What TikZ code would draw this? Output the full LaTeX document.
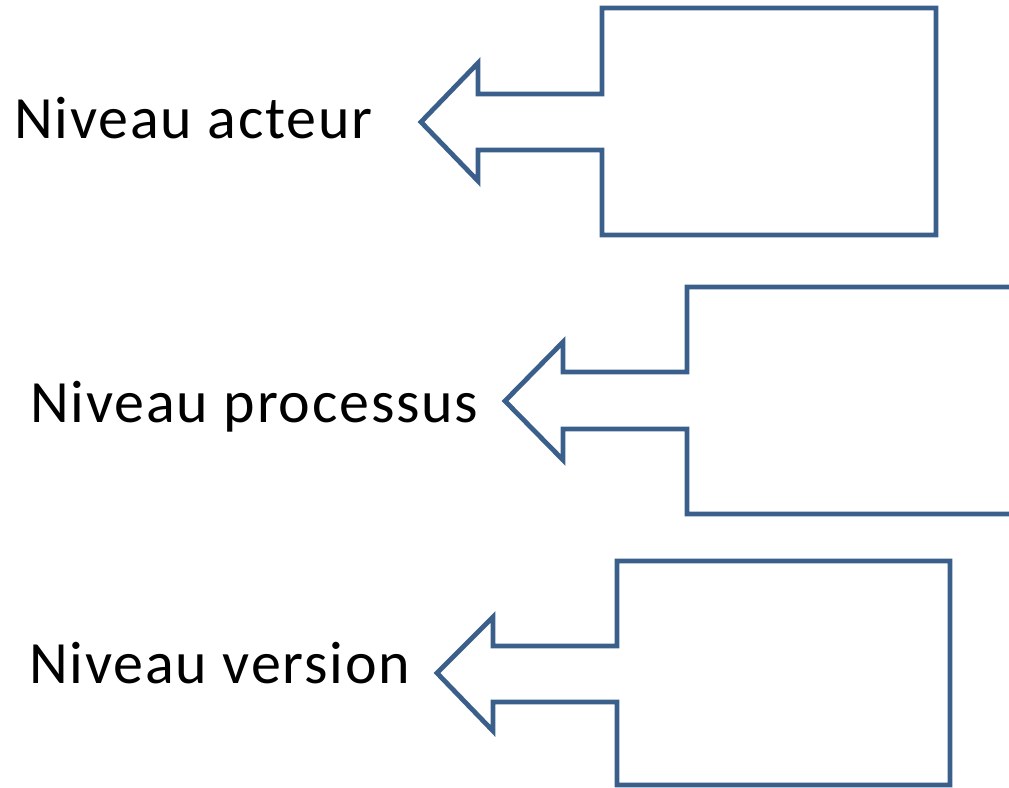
\documentclass[tikz,border=0pt]{standalone}
\usepackage{fontspec}
\setmainfont{Carlito}[LetterSpace=3]
\definecolor{outline}{HTML}{3A5F8B}
\tikzset{
  callout/.style={draw=outline, line width=4.8pt, miter limit=10, line join=miter},
  label/.style={anchor=base west, inner sep=0pt, font=\fontsize{60}{62}\selectfont}
}
\begin{document}
\begin{tikzpicture}[x=1pt,y=-1pt]
\useasboundingbox (0,0) rectangle (1009,787);
% level 1
\draw[callout] (602,8) -- (936,8) -- (936,235) -- (602,235) -- (602,150) -- (478,150) -- (478,181) -- (421,122) -- (478,63) -- (478,94) -- (602,94) -- cycle;
\node[label] (acteur) at (14,138) {Niveau acteur};
% level 2 (cut at right edge)
\draw[callout] (1015,287) -- (687,287) -- (687,372) -- (563,372) -- (563,342) -- (505,401) -- (563,460) -- (563,429) -- (687,429) -- (687,514) -- (1015,514);
\node[label] (processus) at (30,422) {Niveau processus};
% level 3
\draw[callout] (617,561) -- (950,561) -- (950,785) -- (617,785) -- (617,702) -- (493,702) -- (493,731) -- (437,673) -- (493,617) -- (493,646) -- (617,646) -- cycle;
\node[label] (version) at (29,683) {Niveau version};
\end{tikzpicture}
\end{document}
